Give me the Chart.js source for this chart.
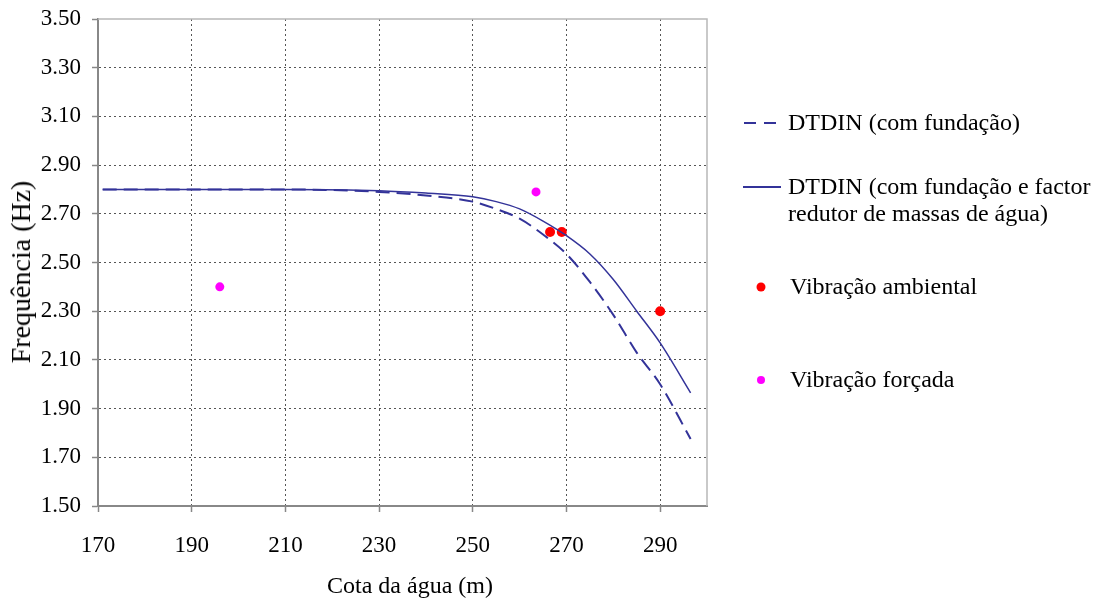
<!DOCTYPE html>
<html lang="pt">
<head>
<meta charset="UTF-8">
<title>Frequência vs cota da água</title>
<script src="https://cdn.jsdelivr.net/npm/chart.js"></script>
<style>
  body { margin: 0; background: #fff; font-family: "Liberation Serif", "Times New Roman", serif; color: #000; }
  #wrap { position: relative; width: 1098px; height: 601px; }
  #ytitle { position: absolute; left: 21px; top: 272px; font-size: 28px; white-space: nowrap;
            transform: translate(-50%, -50%) rotate(-90deg); }
  #xtitle { position: absolute; left: 410px; top: 585px; font-size: 24px; white-space: nowrap;
            transform: translate(-50%, -50%); }
  .leg { position: absolute; font-size: 24px; line-height: 27px; white-space: nowrap; }
  .leg svg { position: absolute; }
</style>
</head>
<body>
<div id="wrap">
  <canvas id="chart" width="1098" height="601"></canvas>
  <div id="ytitle">Frequência (Hz)</div>
  <div id="xtitle">Cota da água (m)</div>
  <div id="legend"></div>
</div>
<script>
// curvas numéricas
const cotaCurva      = [171, 190, 210, 230, 240, 250, 255, 260, 265, 270, 275, 280, 285, 290, 296.5];
const freqFundacao   = [2.80, 2.80, 2.80, 2.79, 2.775, 2.75, 2.72, 2.68, 2.615, 2.535, 2.42, 2.285, 2.13, 2.00, 1.775];
const freqFactor     = [2.80, 2.80, 2.80, 2.795, 2.785, 2.77, 2.75, 2.72, 2.67, 2.61, 2.535, 2.43, 2.30, 2.17, 1.965];
// ensaios
const cotaAmbiental  = [266.5, 269, 290];
const freqAmbiental  = [2.625, 2.625, 2.30];
const cotaForcada    = [196, 263.5];
const freqForcada    = [2.40, 2.79];
// eixos
const xTicks = [170, 190, 210, 230, 250, 270, 290];
const yTicks = [1.5, 1.7, 1.9, 2.1, 2.3, 2.5, 2.7, 2.9, 3.1, 3.3, 3.5];

const xy = (xs, ys) => xs.map((x, i) => ({ x: x, y: ys[i] }));
const fam = '"Liberation Serif", "Times New Roman", serif';
const azul = '#333399';

const frame = {
  id: 'frame',
  beforeDatasetsDraw(chart) {
    const { ctx, chartArea: a } = chart;
    ctx.save();
    ctx.strokeStyle = '#b8b8b8';
    ctx.lineWidth = 1.5;
    ctx.beginPath();
    ctx.moveTo(a.left, a.top);
    ctx.lineTo(a.right, a.top);
    ctx.lineTo(a.right, a.bottom);
    ctx.stroke();
    ctx.restore();
  }
};

const chart = new Chart(document.getElementById('chart'), {
  type: 'line',
  data: {
    datasets: [
      { label: 'DTDIN (com fundação)', data: xy(cotaCurva, freqFundacao),
        borderColor: azul, borderWidth: 2, borderDash: [14, 7], pointRadius: 0,
        cubicInterpolationMode: 'monotone', fill: false },
      { label: 'DTDIN (com fundação e factor redutor de massas de água)', data: xy(cotaCurva, freqFactor),
        borderColor: azul, borderWidth: 1.5, pointRadius: 0,
        cubicInterpolationMode: 'monotone', fill: false },
      { label: 'Vibração ambiental', data: xy(cotaAmbiental, freqAmbiental), showLine: false,
        pointRadius: 5, pointBackgroundColor: '#ff0000', pointBorderWidth: 0 },
      { label: 'Vibração forçada', data: xy(cotaForcada, freqForcada), showLine: false,
        pointRadius: 4.5, pointBackgroundColor: '#ff00ff', pointBorderWidth: 0 }
    ]
  },
  options: {
    responsive: false,
    animation: false,
    layout: { padding: { top: 19, right: 391, left: 0, bottom: 0 } },
    plugins: { legend: { display: false }, tooltip: { enabled: false } },
    scales: {
      x: {
        type: 'linear', min: 170, max: 300,
        afterBuildTicks: a => { a.ticks = xTicks.map(v => ({ value: v })); },
        ticks: { font: { family: fam, size: 23 }, color: '#000', padding: 20, maxRotation: 0, autoSkip: false },
        grid: { color: '#555', tickColor: '#888', lineWidth: 1, tickLength: 6, tickWidth: 1.5 },
        border: { color: '#888', width: 2, dash: [2, 3] },
        afterFit: a => { a.height = 95; a.paddingLeft = 0; a.paddingRight = 0; }
      },
      y: {
        min: 1.5, max: 3.5,
        afterBuildTicks: a => { a.ticks = yTicks.map(v => ({ value: v })); },
        ticks: { font: { family: fam, size: 23 }, color: '#000', padding: 11, autoSkip: false,
                 callback: v => v.toFixed(2) },
        grid: {
          color: c => (c.tick && Math.abs(c.tick.value - 3.5) < 1e-6) ? 'rgba(0,0,0,0)' : '#555',
          tickColor: '#888', lineWidth: 1, tickLength: 6, tickWidth: 1.5
        },
        border: { color: '#888', width: 2, dash: [2, 3] },
        afterFit: a => { a.width = 98; a.paddingTop = 0; a.paddingBottom = 0; }
      }
    }
  },
  plugins: [frame]
});

// legenda à direita
const legendItems = [
  { ds: 0, top: 109, mark: 'dash' },
  { ds: 1, top: 173, mark: 'line', text: 'DTDIN (com fundação e factor<br>redutor de massas de água)' },
  { ds: 2, top: 273, mark: 'dot', r: 4.5 },
  { ds: 3, top: 366, mark: 'dot', r: 4 }
];
const legend = document.getElementById('legend');
legendItems.forEach(it => {
  const ds = chart.data.datasets[it.ds];
  const el = document.createElement('div');
  el.className = 'leg';
  el.style.top = it.top + 'px';
  let svg;
  if (it.mark === 'dash') {
    el.style.left = '788px';
    svg = '<svg width="36" height="10" style="left:-44px;top:9px"><line x1="0" y1="5" x2="36" y2="5" stroke="' + ds.borderColor + '" stroke-width="2" stroke-dasharray="12,8"/></svg>';
  } else if (it.mark === 'line') {
    el.style.left = '788px';
    svg = '<svg width="38" height="10" style="left:-45px;top:9px"><line x1="0" y1="5" x2="38" y2="5" stroke="' + ds.borderColor + '" stroke-width="2"/></svg>';
  } else {
    el.style.left = '790px';
    svg = '<svg width="12" height="12" style="left:-35px;top:8px"><circle cx="6" cy="6" r="' + it.r + '" fill="' + ds.pointBackgroundColor + '"/></svg>';
  }
  el.innerHTML = svg + (it.text || ds.label);
  legend.appendChild(el);
});
</script>
</body>
</html>
